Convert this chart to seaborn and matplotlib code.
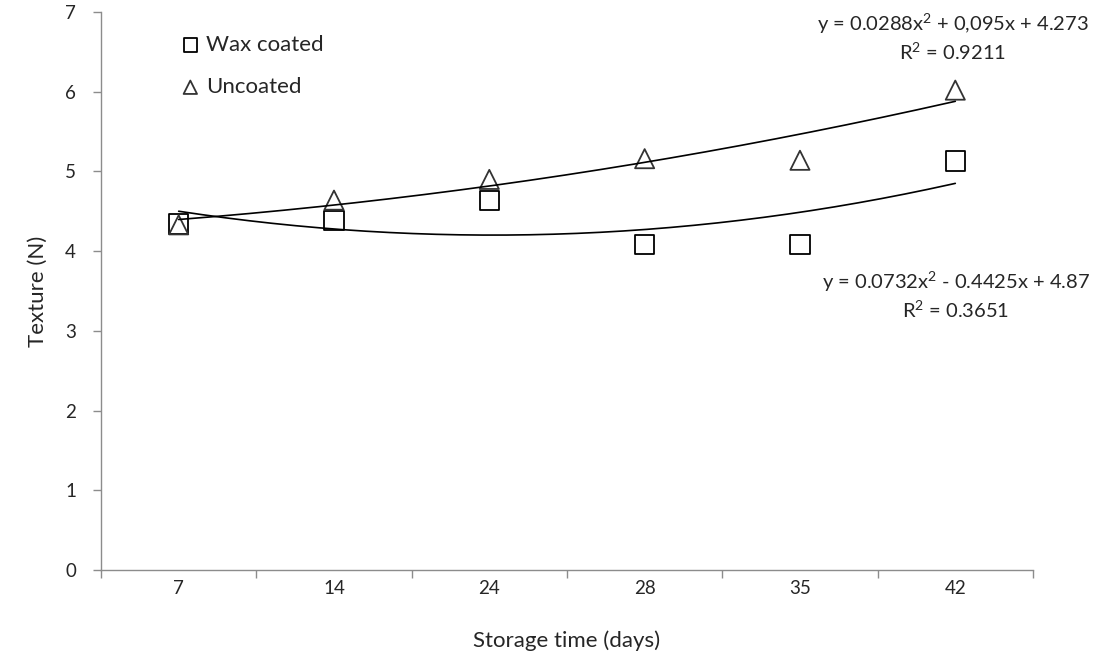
import numpy as np
import pandas as pd
import matplotlib
matplotlib.use("Agg")
import matplotlib.pyplot as plt
import seaborn as sns

# data
days = ["7", "14", "24", "28", "35", "42"]
wax_coated = [4.34, 4.38, 4.63, 4.08, 4.08, 5.13]
uncoated = [4.33, 4.64, 4.90, 5.16, 5.14, 6.02]

# trendline coefficients as printed on the chart (x = category index 1..6)
wax_coef = [0.0732, -0.4425, 4.87]
unc_coef = [0.0288, 0.095, 4.273]
wax_eq = "y = 0.0732x$^2$ - 0.4425x + 4.87\nR$^2$ = 0.3651"
unc_eq = "y = 0.0288x$^2$ + 0,095x + 4.273\nR$^2$ = 0.9211"

sns.set_style("white")
plt.rcParams["font.family"] = ["Lato", "DejaVu Sans"]
plt.rcParams["mathtext.default"] = "regular"

text_col = "#262626"
axis_col = "#8c8c8c"

pos = np.arange(1, len(days) + 1)
df = pd.DataFrame({"pos": np.concatenate([pos, pos]),
                   "texture": wax_coated + uncoated,
                   "group": ["Wax coated"] * len(days) + ["Uncoated"] * len(days)})

fig = plt.figure(figsize=(11.05, 6.6), dpi=100)
ax = fig.add_axes([0.0914, 0.1364, 0.8434, 0.8454])

# trend lines
xs = np.linspace(1, 6, 200)
trend = pd.DataFrame({"x": np.concatenate([xs, xs]),
                      "y": np.concatenate([np.polyval(wax_coef, xs), np.polyval(unc_coef, xs)]),
                      "g": ["w"] * len(xs) + ["u"] * len(xs)})
sns.lineplot(data=trend, x="x", y="y", units="g", estimator=None, color="black",
             linewidth=1.2, ax=ax, legend=False)

sns.scatterplot(data=df[df.group == "Wax coated"], x="pos", y="texture", marker="s", s=190,
                facecolor="none", edgecolor="black", linewidth=1.3, ax=ax, label="Wax coated")
sns.scatterplot(data=df[df.group == "Uncoated"], x="pos", y="texture", marker="^", s=190,
                facecolor="none", edgecolor="#333333", linewidth=1.3, ax=ax, label="Uncoated")

ax.set_xlim(0.5, 6.5)
ax.set_ylim(0, 7)
ax.set_xticks(pos)
ax.set_xticklabels(days)
ax.set_xticks(np.arange(0.5, 7.0, 1.0), minor=True)
ax.set_yticks(range(0, 8))
ax.tick_params(axis="x", which="major", length=0, pad=7, labelsize=13.5, labelcolor=text_col)
ax.tick_params(axis="x", which="minor", length=6, color=axis_col, width=1, direction="out", bottom=True)
ax.tick_params(axis="y", length=6, color=axis_col, width=1, direction="out", left=True,
               pad=12, labelsize=13.5, labelcolor=text_col)

for side in ["top", "right"]:
    ax.spines[side].set_visible(False)
for side in ["left", "bottom"]:
    ax.spines[side].set_color(axis_col)
    ax.spines[side].set_linewidth(1)

ax.set_xlabel("Storage time (days)", fontsize=16, color=text_col, labelpad=24)
ax.set_ylabel("Texture (N)", fontsize=16, color=text_col, labelpad=12)

leg = ax.legend(loc="upper left", bbox_to_anchor=(0.072, 0.975), frameon=False, fontsize=16,
                handletextpad=0.1, labelspacing=1.0, borderaxespad=0, labelcolor=text_col,
                markerscale=0.7, handlelength=1.2)

ax.text(0.914, 0.955, unc_eq, transform=ax.transAxes, ha="center", va="center",
        fontsize=14.5, color=text_col, linespacing=1.3)
ax.text(0.917, 0.493, wax_eq, transform=ax.transAxes, ha="center", va="center",
        fontsize=14.5, color=text_col, linespacing=1.3)

fig.savefig("out.png", dpi=100)
